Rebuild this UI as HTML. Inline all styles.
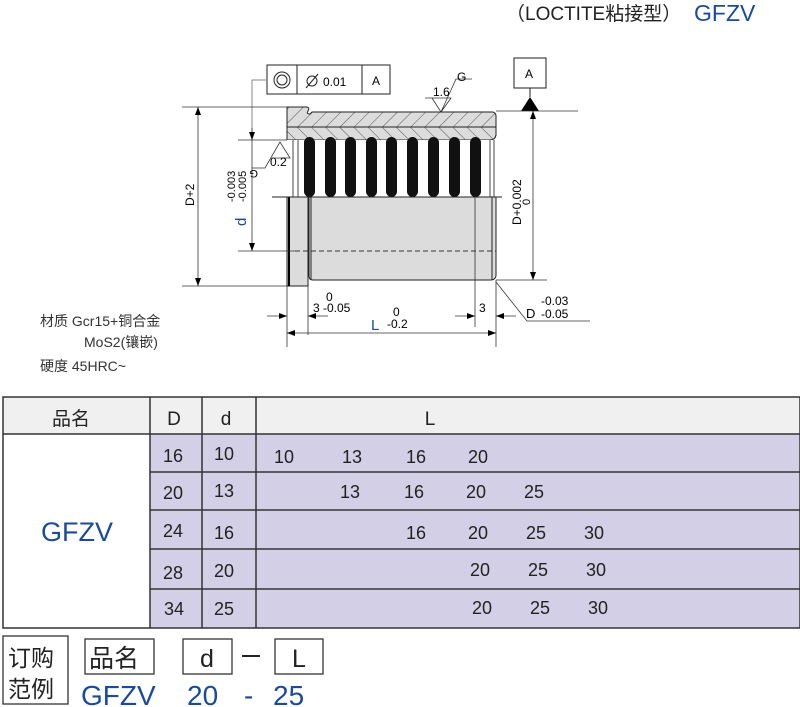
<!DOCTYPE html>
<html><head><meta charset="utf-8"><style>
body{margin:0;background:#fff;}
svg{display:block;font-family:"Liberation Sans","Noto Sans CJK SC",sans-serif;}
</style></head><body>
<svg width="800" height="707" viewBox="0 0 800 707" xmlns="http://www.w3.org/2000/svg">
<defs>
<pattern id="h1" width="10" height="10" patternUnits="userSpaceOnUse" patternTransform="rotate(45)"><rect width="10" height="10" fill="#dcdcdc"/><line x1="0" y1="0" x2="0" y2="10" stroke="#333" stroke-width="0.8"/></pattern>
<pattern id="h2" width="10" height="10" patternUnits="userSpaceOnUse" patternTransform="rotate(-45)"><rect width="10" height="10" fill="#dcdcdc"/><line x1="0" y1="0" x2="0" y2="10" stroke="#333" stroke-width="0.8"/></pattern>
<marker id="ar" markerWidth="8" markerHeight="6" refX="8" refY="3" orient="auto-start-reverse" markerUnits="userSpaceOnUse"><path d="M0,0 L8,3 L0,6 z" fill="#000"/></marker>
</defs>
<text x="506" y="20" font-size="19" fill="#222">（LOCTITE粘接型）</text>
<text x="694" y="21" font-size="23" fill="#1a4a9a">GFZV</text>

<!-- FCF -->
<g stroke="#222" fill="none" stroke-width="1">
<rect x="267" y="65" width="123" height="29" fill="#fff"/>
<line x1="297" y1="65" x2="297" y2="94"/><line x1="362" y1="65" x2="362" y2="94"/>
<circle cx="282" cy="80" r="8"/><circle cx="282" cy="80" r="5"/>
<circle cx="312" cy="81" r="5"/><line x1="306" y1="88" x2="318" y2="74"/>
<rect x="514" y="58" width="32" height="30" fill="#fff"/>
<polyline points="267,80 252,80 252,140" stroke="#888"/>
</g>
<text x="323" y="86" font-size="12">0.01</text>
<text x="372" y="85" font-size="12">A</text>
<text x="525" y="78" font-size="12">A</text>
<line x1="530" y1="88" x2="530" y2="97" stroke="#222"/>
<path d="M521,111 L530,97 L539,111 z" fill="#000"/>

<!-- part -->
<path d="M287,107 L307,107 Q310,108 308,111 Q306,114 310,114 L312,112 L493,112 Q496,113 496,116 L496,135 Q495,140 490,140 L287,140 z" fill="url(#h1)" stroke="#222"/>
<path d="M287,127 L496,127 L496,135 Q495,140 490,140 L287,140 z" fill="url(#h2)" stroke="#222"/>
<rect x="287" y="140" width="209" height="57" fill="#fff" stroke="none"/>
<line x1="293" y1="140" x2="293" y2="197" stroke="#444"/>
<line x1="298" y1="140" x2="298" y2="197" stroke="#444"/>
<line x1="490" y1="140" x2="490" y2="197" stroke="#444"/>
<line x1="494" y1="140" x2="494" y2="197" stroke="#444"/>
<g fill="#111">
<rect x="304" y="137" width="11" height="60" rx="5.5"/><rect x="325" y="137" width="11" height="60" rx="5.5"/><rect x="345" y="137" width="11" height="60" rx="5.5"/><rect x="366" y="137" width="11" height="60" rx="5.5"/><rect x="386" y="137" width="11" height="60" rx="5.5"/><rect x="407" y="137" width="11" height="60" rx="5.5"/><rect x="428" y="137" width="11" height="60" rx="5.5"/><rect x="449" y="137" width="11" height="60" rx="5.5"/><rect x="470" y="137" width="11" height="60" rx="5.5"/>
</g>
<rect x="287" y="197" width="21" height="89" fill="#dcdcdc" stroke="#222"/>
<line x1="289" y1="197" x2="289" y2="286" stroke="#000" stroke-width="2"/>
<path d="M309,197 L496,197 L496,276 Q495,280 491,280 L313,280 Q309,280 309,276 z" fill="#dcdcdc" stroke="#222"/>
<line x1="311" y1="197" x2="311" y2="280" stroke="#222"/>
<line x1="492" y1="197" x2="492" y2="280" stroke="#222"/>
<line x1="295" y1="251" x2="496" y2="251" stroke="#333" stroke-dasharray="5,3"/>
<line x1="272" y1="197" x2="502" y2="197" stroke="#222"/>

<!-- dims -->
<g stroke="#333" stroke-width="0.8" fill="none">
<line x1="182" y1="107" x2="287" y2="107"/><line x1="182" y1="286" x2="287" y2="286"/>
<line x1="198" y1="107" x2="198" y2="286" marker-start="url(#ar)" marker-end="url(#ar)"/>
<line x1="238" y1="140" x2="287" y2="140"/><line x1="238" y1="251" x2="295" y2="251"/>
<line x1="252" y1="140" x2="252" y2="251" marker-end="url(#ar)"/>
<line x1="252" y1="128" x2="252" y2="140" marker-end="url(#ar)"/>
<path d="M252,168 L265,168 L280,142 L290,158 L275,158"/>
<line x1="496" y1="111" x2="578" y2="111"/><line x1="496" y1="280" x2="547" y2="280"/>
<line x1="533" y1="111" x2="533" y2="280" marker-start="url(#ar)" marker-end="url(#ar)"/>
<path d="M432,98 L441,112 L451,98 L425,98 M441,112 L456,79 L472,79"/>
<line x1="287" y1="286" x2="287" y2="347"/><line x1="496" y1="280" x2="496" y2="347"/>
<line x1="308" y1="286" x2="308" y2="335"/>
<line x1="475" y1="197" x2="475" y2="327"/>
<line x1="287" y1="333" x2="496" y2="333" marker-start="url(#ar)" marker-end="url(#ar)"/>
<line x1="267" y1="316" x2="287" y2="316" marker-end="url(#ar)"/><line x1="328" y1="316" x2="308" y2="316" marker-end="url(#ar)"/>
<line x1="455" y1="316" x2="475" y2="316" marker-end="url(#ar)"/><line x1="516" y1="316" x2="496" y2="316" marker-end="url(#ar)"/>
<path d="M590,321 L527,321 L496,282"/>
</g>
<text x="270" y="166" font-size="12">0.2</text>
<text transform="translate(258,170) rotate(180)" font-size="11">G</text>
<text x="433" y="96" font-size="12">1.6</text>
<text x="457" y="81" font-size="12">G</text>
<text transform="translate(194,206) rotate(-90)" font-size="12">D+2</text>
<text transform="translate(235,202) rotate(-90)" font-size="11">-0.003</text>
<text transform="translate(246,202) rotate(-90)" font-size="11">-0.005</text>
<text transform="translate(246,226) rotate(-90)" font-size="15" fill="#1a4a9a">d</text>
<text transform="translate(521,225) rotate(-90)" font-size="12">D+0.002</text>
<text transform="translate(530,205) rotate(-90)" font-size="11">0</text>
<text x="326" y="301" font-size="12">0</text>
<text x="313" y="312" font-size="12">3 -0.05</text>
<text x="393" y="316" font-size="12">0</text>
<text x="371" y="330" font-size="15" fill="#1a4a9a">L</text>
<text x="387" y="328" font-size="12">-0.2</text>
<text x="479" y="312" font-size="12">3</text>
<text x="541" y="305" font-size="12">-0.03</text>
<text x="526" y="318" font-size="13">D</text>
<text x="541" y="318" font-size="12">-0.05</text>

<text x="40" y="326" font-size="14" fill="#333">材质  Gcr15+铜合金</text>
<text x="84" y="347" font-size="14" fill="#333">MoS2(镶嵌)</text>
<text x="40" y="371" font-size="14" fill="#333">硬度  45HRC~</text>

<!-- table -->
<rect x="3" y="397" width="797" height="37" fill="#f0f0f0"/>
<rect x="150" y="434" width="650" height="194" fill="#d2cfe6"/>
<g stroke="#333" stroke-width="1.5" fill="none">
<rect x="3" y="397" width="797" height="231"/>
<line x1="3" y1="434" x2="800" y2="434"/>
<line x1="150" y1="472" x2="800" y2="472"/><line x1="150" y1="510" x2="800" y2="510"/>
<line x1="150" y1="549" x2="800" y2="549"/><line x1="150" y1="589" x2="800" y2="589"/>
<line x1="150" y1="397" x2="150" y2="628"/><line x1="202" y1="397" x2="202" y2="628"/><line x1="256" y1="397" x2="256" y2="628"/>
</g>
<g font-size="19" fill="#222" text-anchor="middle">
<text x="71" y="425">品名</text><text x="174" y="425">D</text><text x="226" y="425">d</text><text x="430" y="425">L</text>
</g>
<text x="77" y="541" font-size="27" fill="#1a4a9a" text-anchor="middle">GFZV</text>
<g font-size="18" fill="#222" text-anchor="middle">
<text x="173" y="462">16</text><text x="224" y="460">10</text>
<text x="173" y="499">20</text><text x="224" y="497">13</text>
<text x="173" y="537">24</text><text x="224" y="539">16</text>
<text x="173" y="579">28</text><text x="224" y="577">20</text>
<text x="174" y="615">34</text><text x="224" y="615">25</text>
<text x="284" y="463">10</text><text x="352" y="463">13</text><text x="416" y="463">16</text><text x="478" y="463">20</text>
<text x="350" y="498">13</text><text x="414" y="498">16</text><text x="476" y="498">20</text><text x="534" y="498">25</text>
<text x="416" y="539">16</text><text x="478" y="539">20</text><text x="536" y="539">25</text><text x="594" y="539">30</text>
<text x="480" y="576">20</text><text x="538" y="576">25</text><text x="596" y="576">30</text>
<text x="482" y="614">20</text><text x="540" y="614">25</text><text x="598" y="614">30</text>
</g>

<!-- order example -->
<g stroke="#333" stroke-width="1.3" fill="none">
<rect x="3" y="636" width="65" height="68"/>
<rect x="85" y="639" width="69" height="35"/>
<rect x="183" y="639" width="49" height="35"/>
<rect x="275" y="639" width="48" height="35"/>
</g>
<text x="8" y="666" font-size="23" fill="#222">订购</text>
<text x="8" y="697" font-size="23" fill="#222">范例</text>
<text x="89" y="667" font-size="25" fill="#222">品名</text>
<text x="207" y="667" font-size="25" fill="#222" text-anchor="middle">d</text>
<text x="299" y="667" font-size="25" fill="#222" text-anchor="middle">L</text>
<line x1="242" y1="656" x2="260" y2="656" stroke="#222" stroke-width="2"/>
<g font-size="28" fill="#1a4a9a">
<text x="81" y="705">GFZV</text>
<text x="187" y="705">20</text>
<text x="244" y="705">-</text>
<text x="273" y="705">25</text>
</g>
</svg>
</body></html>
